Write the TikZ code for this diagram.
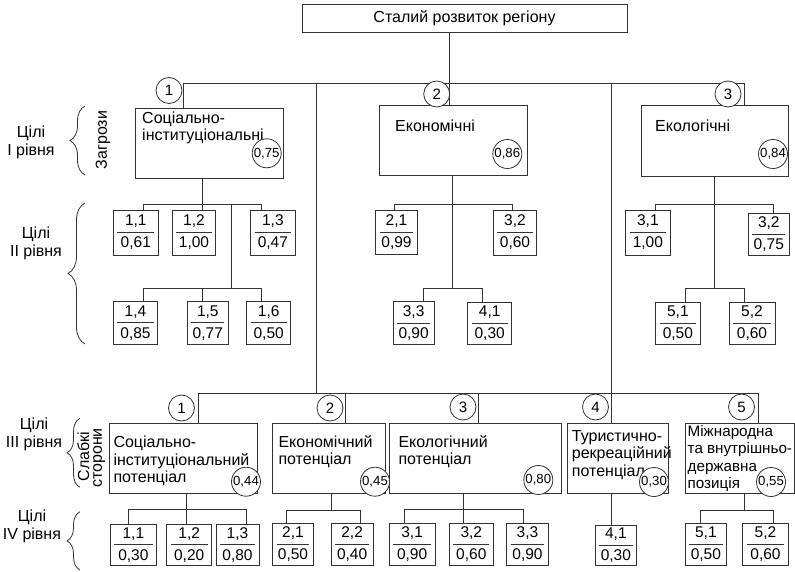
\documentclass[tikz,border=0pt]{standalone}
\usepackage{fontspec}
\setmainfont{Liberation Sans}
\usetikzlibrary{decorations.pathreplacing}
\newcommand{\BigRect}[6]{\node[bigbox, minimum width={#4-#2}, minimum height={#5-#3}] (#1) at (#2,#3) {#6};}
\newcommand{\NumBox}[7]{\node[nbox, minimum width={#4-#2}, minimum height={#5-#3}] (#1) at ({(#2+#4)/2},{(#3+#5)/2}) {#6\\#7};}
\begin{document}
\begin{tikzpicture}[x=1pt,y=-1pt,
  every node/.style={font=\fontsize{16}{17.5}\selectfont},
  ln/.style={draw=black!80, line width=0.8pt},
  bigbox/.style={ln, inner sep=0pt, anchor=north west},
  btext/.style={inner sep=0pt, anchor=north west, align=left, font=\fontsize{16}{17.5}\selectfont},
  nbox/.style={ln, inner sep=0pt, align=center, font=\fontsize{15.5}{22}\selectfont,
    path picture={\draw[draw=black!80, line width=0.8pt] ([xshift=4pt]path picture bounding box.west) -- ([xshift=-4pt]path picture bounding box.east);}},
  ncirc/.style={ln, circle, fill=white, inner sep=0pt, minimum size=26pt, font=\fontsize{15}{15}\selectfont},
  vcirc/.style={ln, circle, fill=white, inner sep=0pt, minimum size=29pt, font=\fontsize{13.2}{13.2}\selectfont},
  lvl/.style={align=center, inner sep=0pt, font=\fontsize{16}{18}\selectfont},
  rot/.style={rotate=90, inner sep=0pt, font=\fontsize{16}{16}\selectfont},
  brc/.style={ln, decorate, decoration={brace, amplitude=#1}},
]
\useasboundingbox (0,0) rectangle (795,572);

% ---------- boxes ----------
\node[bigbox, anchor=center, minimum width=325pt, minimum height=28.7pt] (top) at (464.5,18.5) {Сталий розвиток регіону};

\BigRect{L1}{135}{107.7}{282.7}{178.3}{}
\BigRect{L2}{379.3}{105.5}{526.7}{175.5}{}
\BigRect{L3}{640.7}{105.3}{788.3}{175.7}{}

\BigRect{S1}{109.3}{422.7}{256.7}{493.3}{}
\BigRect{S2}{271.7}{422.7}{385}{492.7}{}
\BigRect{S3}{389.3}{422.7}{561}{493.3}{}
\BigRect{S4}{566.7}{422.7}{668.3}{492.7}{}
\BigRect{S5}{685}{422.7}{794.3}{492.7}{}

% box texts
\node[btext] (tL1) at (142,111.5) {Соціально-\\інституціональні};
\node[btext] (tL2) at (395,120) {Економічні};
\node[btext] (tL3) at (655,120) {Екологічні};
\node[btext] (tS1) at (113.3,436) {Соціально-\\інституціональний\\потенціал};
\node[btext] (tS2) at (278.3,435) {Економічний\\потенціал};
\node[btext] (tS3) at (398.3,435) {Екологічний\\потенціал};
\node[btext] (tS4) at (571.7,430) {Туристично-\\рекреаційний\\потенціал};
\node[btext, font=\fontsize{15.2}{17.5}\selectfont] (tS5) at (687.5,425) {Міжнародна\\та внутрішньо-\\державна\\позиція};

% level II boxes
\NumBox{b11}{113.3}{210}{158.3}{255}{1,1}{0,61}
\NumBox{b12}{172.3}{210}{215.7}{255}{1,2}{1,00}
\NumBox{b13}{250.7}{210}{295}{255}{1,3}{0,47}
\NumBox{b14}{113.3}{301.7}{157.7}{344}{1,4}{0,85}
\NumBox{b15}{187.3}{301.7}{228.3}{344}{1,5}{0,77}
\NumBox{b16}{246.7}{301.7}{290.7}{344}{1,6}{0,50}

\NumBox{b21}{375.7}{210}{417.3}{254.3}{2,1}{0,99}
\NumBox{b32}{493.3}{210}{536.7}{255}{3,2}{0,60}
\NumBox{b33}{393.3}{301.7}{434}{344.3}{3,3}{0,90}
\NumBox{b41}{467.7}{302.3}{511.7}{344.3}{4,1}{0,30}

\NumBox{r31}{625.7}{210}{670}{255}{3,1}{1,00}
\NumBox{r32}{748.3}{213.3}{789.3}{255.7}{3,2}{0,75}
\NumBox{r51}{655.7}{302.3}{700}{344.3}{5,1}{0,50}
\NumBox{r52}{729}{302.3}{775}{344.3}{5,2}{0,60}

% level IV boxes
\NumBox{d11}{110}{524}{156.7}{565.7}{1,1}{0,30}
\NumBox{d12}{166.7}{524}{211.7}{565.7}{1,2}{0,20}
\NumBox{d13}{216}{524}{259}{565.7}{1,3}{0,80}
\NumBox{d21}{272.7}{523.3}{313.3}{565}{2,1}{0,50}
\NumBox{d22}{331}{523.3}{373.3}{565}{2,2}{0,40}
\NumBox{d31}{389.3}{523.3}{435}{565}{3,1}{0,90}
\NumBox{d32}{449.3}{523.3}{493.3}{565}{3,2}{0,60}
\NumBox{d33}{506.7}{523.3}{548.3}{565}{3,3}{0,90}
\NumBox{d41}{595}{525}{636.7}{565}{4,1}{0,30}
\NumBox{d51}{685}{523.3}{726.7}{565}{5,1}{0,50}
\NumBox{d52}{742.7}{523.3}{788.3}{565}{5,2}{0,60}

% ---------- connectors ----------
\coordinate (j0) at (449.3,83.3);
\coordinate (busL) at (183.3,83.3);
\coordinate (busR) at (744,83.3);
\coordinate (v1) at (316,83.3);
\coordinate (v1b) at (316,393.3);
\coordinate (v2) at (611,83.3);
\draw[ln] (top.south -| j0) -- (j0);
\draw[ln] (busL) -- (busR);
\draw[ln] (busL) -- (busL |- L1.north);
\draw[ln] (j0) -- (j0 |- L2.north);
\draw[ln] (busR) -- (busR |- L3.north);
\draw[ln] (v1) -- (v1b);
\draw[ln] (v2) -- (v2 |- S4.north);

\coordinate (k1) at (198.3,393.3);
\coordinate (k2) at (345,393.3);
\coordinate (k3) at (478.3,393.3);
\coordinate (k5) at (758.3,393.3);
\draw[ln] (k1) -- (k5);
\draw[ln] (k1) -- (k1 |- S1.north);
\draw[ln] (k2) -- (k2 |- S2.north);
\draw[ln] (k3) -- (k3 |- S3.north);
\draw[ln] (k5) -- (k5 |- S5.north);

% level I -> II (left)
\coordinate (a0) at (202.3,204);
\coordinate (a1) at (143.3,204);
\coordinate (a3) at (261.7,204);
\coordinate (a4) at (231.7,204);
\coordinate (a5) at (231.7,288.3);
\coordinate (a6) at (143.3,288.3);
\coordinate (a7) at (202.3,288.3);
\coordinate (a8) at (261.7,288.3);
\draw[ln] (L1.south -| a0) -- (a0);
\draw[ln] (a1) -- (a3);
\draw[ln] (a1) -- (a1 |- b11.north);
\draw[ln] (a0) -- (a0 |- b12.north);
\draw[ln] (a3) -- (a3 |- b13.north);
\draw[ln] (a4) -- (a5);
\draw[ln] (a6) -- (a8);
\draw[ln] (a6) -- (a6 |- b14.north);
\draw[ln] (a7) -- (a7 |- b15.north);
\draw[ln] (a8) -- (a8 |- b16.north);

% middle
\coordinate (m1) at (394,204);
\coordinate (m2) at (512,204);
\coordinate (m3) at (452.7,288.3);
\coordinate (m4) at (423.3,288.3);
\coordinate (m5) at (482.7,288.3);
\draw[ln] (L2.south -| m3) -- (m3);
\draw[ln] (m1) -- (m2);
\draw[ln] (m1) -- (m1 |- b21.north);
\draw[ln] (m2) -- (m2 |- b32.north);
\draw[ln] (m4) -- (m5);
\draw[ln] (m4) -- (m4 |- b33.north);
\draw[ln] (m5) -- (m5 |- b41.north);

% right
\coordinate (n1) at (655.7,204);
\coordinate (n2) at (773.3,204);
\coordinate (n3) at (714.3,288.3);
\coordinate (n4) at (685,288.3);
\coordinate (n5) at (744,288.3);
\draw[ln] (L3.south -| n3) -- (n3);
\draw[ln] (n1) -- (n2);
\draw[ln] (n1) -- (n1 |- r31.north);
\draw[ln] (n2) -- (n2 |- r32.north);
\draw[ln] (n4) -- (n5);
\draw[ln] (n4) -- (n4 |- r51.north);
\draw[ln] (n5) -- (n5 |- r52.north);

% level III -> IV
\coordinate (p0) at (186.7,509.3);
\coordinate (p1) at (128.3,509.3);
\coordinate (p2) at (246,509.3);
\draw[ln] (S1.south -| p0) -- (p0);
\draw[ln] (p1) -- (p2);
\draw[ln] (p1) -- (p1 |- d11.north);
\draw[ln] (p0) -- (p0 |- d12.north);
\draw[ln] (p2) -- (p2 |- d13.north);

\coordinate (q0) at (331,510);
\coordinate (q1) at (286.7,510);
\coordinate (q2) at (360,510);
\draw[ln] (S2.south -| q0) -- (q0);
\draw[ln] (q1) -- (q2);
\draw[ln] (q1) -- (q1 |- d21.north);
\draw[ln] (q2) -- (q2 |- d22.north);

\coordinate (t0) at (463.3,509.3);
\coordinate (t1) at (404.3,509.3);
\coordinate (t2) at (523.3,509.3);
\draw[ln] (S3.south -| t0) -- (t0);
\draw[ln] (t1) -- (t2);
\draw[ln] (t1) -- (t1 |- d31.north);
\draw[ln] (t0) -- (t0 |- d32.north);
\draw[ln] (t2) -- (t2 |- d33.north);

\draw[ln] (S4.south -| v2) -- (v2 |- d41.north);

\coordinate (u0) at (744,510);
\coordinate (u1) at (700,510);
\coordinate (u2) at (773.3,510);
\draw[ln] (S5.south -| u0) -- (u0);
\draw[ln] (u1) -- (u2);
\draw[ln] (u1) -- (u1 |- d51.north);
\draw[ln] (u2) -- (u2 |- d52.north);

% ---------- circles ----------
\node[ncirc] (c1) at (169,90.5) {1};
\node[ncirc] (c2) at (436.7,94) {2};
\node[ncirc] (c3) at (728,94) {3};
\node[vcirc] (w1) at (266.7,153.3) {0,75};
\node[vcirc] (w2) at (507.3,154) {0,86};
\node[vcirc] (w3) at (773,154) {0,84};

\node[ncirc] (e1) at (181.5,408) {1};
\node[ncirc] (e2) at (330,408) {2};
\node[ncirc] (e3) at (463,407) {3};
\node[ncirc] (e4) at (595.5,407) {4};
\node[ncirc] (e5) at (741.5,407) {5};
\node[vcirc] (x1) at (246,481.7) {0,44};
\node[vcirc] (x2) at (375,481.7) {0,45};
\node[vcirc] (x3) at (538.3,480) {0,80};
\node[vcirc] (x4) at (654,482) {0,30};
\node[vcirc] (x5) at (771,482) {0,55};

% ---------- left labels ----------
\node[lvl] (g1) at (31,142.3) {Цілі\\І рівня};
\node[lvl] (g2) at (36,243) {Цілі\\ІІ рівня};
\node[lvl] (g3) at (34,434.3) {Цілі\\ІІІ рівня};
\node[lvl] (g4) at (32,526.5) {Цілі\\IV рівня};

\draw[brc=15pt] (85,175) -- (85,106);
\draw[brc=17pt] (85,344) -- (85,203);
\draw[brc=13pt] (80,487.3) -- (80,418.3);
\draw[brc=13pt] (80,570) -- (80,511.7);

\node[rot] (z1) at (103,140) {Загрози};
\node[rot] (z2) at (83.3,456.7) {Слабкі};
\node[rot] (z3) at (99.3,458) {сторони};
\end{tikzpicture}
\end{document}
